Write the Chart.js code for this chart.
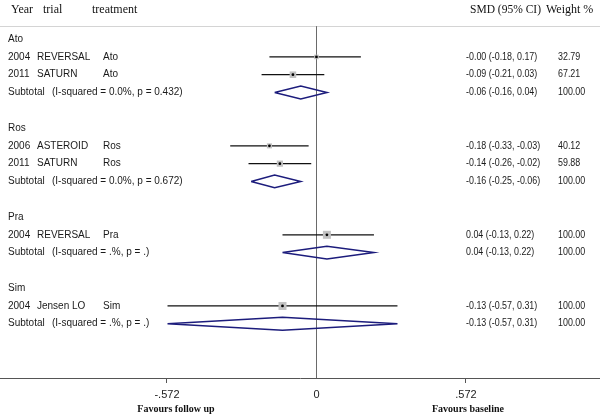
<!DOCTYPE html>
<html>
<head>
<meta charset="utf-8">
<script src="https://cdn.jsdelivr.net/npm/chart.js@4.4.1/dist/chart.umd.min.js"></script>
<style>
  html, body { margin: 0; padding: 0; background: #fff; }
  #forest { display: block; }
</style>
</head>
<body>
<canvas id="forest" width="600" height="416"></canvas>
<script>
// data
var groups = ['Ato', 'Ros', 'Pra', 'Sim'];
var years = ['2004', '2011', '2006', '2011', '2004', '2004'];
var trials = ['REVERSAL', 'SATURN', 'ASTEROID', 'SATURN', 'REVERSAL', 'Jensen LO'];
var treatments = ['Ato', 'Ato', 'Ros', 'Ros', 'Pra', 'Sim'];
var smd = [-0.00, -0.09, -0.18, -0.14, 0.04, -0.13];
var lower = [-0.18, -0.21, -0.33, -0.26, -0.13, -0.57];
var upper = [0.17, 0.03, -0.03, -0.02, 0.22, 0.31];
var weights = [32.79, 67.21, 40.12, 59.88, 100.00, 100.00];

var subSmd = [-0.06, -0.16, 0.04, -0.13];
var subLower = [-0.16, -0.25, -0.13, -0.57];
var subUpper = [0.04, -0.06, 0.22, 0.31];
var subHet = ['(I-squared = 0.0%, p = 0.432)', '(I-squared = 0.0%, p = 0.672)', '(I-squared = .%, p = .)', '(I-squared = .%, p = .)'];

var tickValues = [-0.572, 0, 0.572];
var tickLabels = ['-.572', '0', '.572'];

// keep the sign of -0.00 like the original table
function fmt(v) {
  var neg = v < 0 || Object.is(v, -0);
  return (neg ? '-' : '') + Math.abs(v).toFixed(2);
}

// lay rows out: group label, studies, subtotal, blank
var rows = [];
var studyRow = [];
var subRow = [];
var r = 0;
groups.forEach(function (g, gi) {
  rows.push({ kind: 'group', r: r, label: g }); r++;
  treatments.forEach(function (t, i) {
    if (t === g) { studyRow[i] = r; rows.push({ kind: 'study', r: r, i: i }); r++; }
  });
  subRow[gi] = r; rows.push({ kind: 'sub', r: r, gi: gi }); r++;
  r++;
});

var datasets = [];
// confidence intervals
smd.forEach(function (v, i) {
  datasets.push({
    type: 'line', showLine: true, order: 3,
    data: [{ x: lower[i], y: studyRow[i] }, { x: upper[i], y: studyRow[i] }],
    borderColor: '#111', borderWidth: 1.3, pointRadius: 0
  });
});
// weight boxes
datasets.push({
  type: 'scatter', order: 2,
  data: smd.map(function (v, i) { return { x: v, y: studyRow[i] }; }),
  pointStyle: 'rect',
  pointRadius: weights.map(function (w) { return 8 * Math.sqrt(w / 100) / Math.SQRT2; }),
  backgroundColor: '#c2c2c2', borderWidth: 0
});
// centre dots
datasets.push({
  type: 'scatter', order: 1,
  data: smd.map(function (v, i) { return { x: v, y: studyRow[i] }; }),
  pointStyle: 'circle', pointRadius: 1.4,
  backgroundColor: '#000', borderWidth: 0
});
// subtotal diamonds
var dh = 0.36;
subSmd.forEach(function (v, gi) {
  var y = subRow[gi];
  datasets.push({
    type: 'line', showLine: true, order: 3,
    data: [
      { x: subLower[gi], y: y }, { x: v, y: y - dh },
      { x: subUpper[gi], y: y }, { x: v, y: y + dh },
      { x: subLower[gi], y: y }
    ],
    borderColor: '#1c1c7c', borderWidth: 1.5, pointRadius: 0, tension: 0
  });
});

var sans = '"Liberation Sans", Arial, sans-serif';
var serif = '"Liberation Serif", "Times New Roman", serif';

var forestText = {
  id: 'forestText',
  beforeDatasetsDraw: function (chart) {
    var c = chart.ctx, xs = chart.scales.x, ys = chart.scales.y, a = chart.chartArea;
    var yTop = ys.getPixelForValue(-0.73);
    c.save();
    c.strokeStyle = '#d4d4d4';
    c.lineWidth = 1;
    c.beginPath(); c.moveTo(a.left, Math.round(yTop) + 0.5); c.lineTo(a.right, Math.round(yTop) + 0.5); c.stroke();
    c.strokeStyle = '#6a6a6a';
    var x0 = Math.round(xs.getPixelForValue(0)) + 0.5;
    c.beginPath(); c.moveTo(x0, yTop); c.lineTo(x0, a.bottom); c.stroke();
    c.restore();
  },
  afterDraw: function (chart) {
    var c = chart.ctx, xs = chart.scales.x, ys = chart.scales.y;
    c.save();
    c.textBaseline = 'middle';
    // header
    c.fillStyle = '#111';
    c.font = '12px ' + serif;
    var hy = ys.getPixelForValue(-1.62);
    c.fillText('Year', 11, hy);
    c.fillText('trial', 43, hy);
    c.fillText('treatment', 92, hy);
    c.fillText('SMD (95% CI)', 470, hy, 71);
    c.fillText('Weight %', 546, hy);

    c.fillStyle = '#1a1a1a';
    rows.forEach(function (row) {
      var y = ys.getPixelForValue(row.r);
      c.font = '10px ' + sans;
      if (row.kind === 'group') {
        c.fillText(row.label, 8, y);
        return;
      }
      var est, lo, hi, w;
      if (row.kind === 'study') {
        c.fillText(years[row.i], 8, y);
        c.fillText(trials[row.i], 37, y);
        c.fillText(treatments[row.i], 103, y);
        est = smd[row.i]; lo = lower[row.i]; hi = upper[row.i]; w = weights[row.i];
      } else {
        c.fillText('Subtotal', 8, y);
        c.fillText(subHet[row.gi], 52, y);
        est = subSmd[row.gi]; lo = subLower[row.gi]; hi = subUpper[row.gi]; w = 100;
      }
      // right columns, slightly condensed
      c.save();
      c.translate(466, y);
      c.scale(0.89, 1);
      c.fillText(fmt(est) + ' (' + fmt(lo) + ', ' + fmt(hi) + ')', 0, 0);
      c.restore();
      c.save();
      c.translate(558, y);
      c.scale(0.89, 1);
      c.fillText(fmt(w), 0, 0);
      c.restore();
    });

    // favours labels
    c.font = 'bold 10px ' + serif;
    c.fillStyle = '#111';
    c.textAlign = 'center';
    c.fillText('Favours follow up', xs.getPixelForValue(tickValues[0]) + 9, 409);
    c.fillText('Favours baseline', xs.getPixelForValue(tickValues[2]) + 2, 409);
    c.restore();
  }
};

new Chart(document.getElementById('forest'), {
  type: 'scatter',
  data: { datasets: datasets },
  options: {
    responsive: false,
    animation: false,
    devicePixelRatio: 1,
    layout: { padding: 0, autoPadding: false },
    plugins: { legend: { display: false }, tooltip: { enabled: false } },
    scales: {
      x: {
        type: 'linear',
        position: 'bottom',
        min: -1.211,
        max: 1.085,
        afterBuildTicks: function (scale) {
          scale.ticks = tickValues.map(function (v) { return { value: v }; });
        },
        afterFit: function (scale) { scale.height = 38; },
        border: { display: true, color: '#555', width: 1 },
        grid: {
          drawOnChartArea: false,
          drawTicks: true,
          tickLength: 5,
          color: function (ctx) { return ctx.tick && ctx.tick.value === 0 ? 'rgba(0,0,0,0)' : '#555'; }
        },
        ticks: {
          autoSkip: false,
          maxRotation: 0,
          padding: 5,
          color: '#222',
          font: { family: sans, size: 11 },
          callback: function (v, i) { return tickLabels[i]; }
        }
      },
      y: {
        type: 'linear',
        display: false,
        reverse: true,
        min: -2.2,
        max: 19.05
      }
    }
  },
  plugins: [forestText]
});
</script>
</body>
</html>
